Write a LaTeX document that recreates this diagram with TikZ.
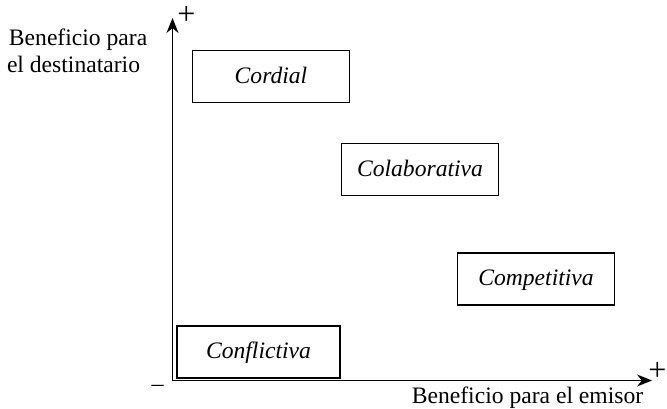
\documentclass[tikz,border=0pt]{standalone}
\usepackage{fontspec}
\setmainfont{Liberation Serif}
\usetikzlibrary{arrows.meta}
\begin{document}
\begin{tikzpicture}[x=0.5pt,y=-0.5pt,
  every node/.style={font=\fontsize{11.8}{14}\selectfont, inner sep=0pt, outer sep=0pt},
  axis/.style={line width=0.75pt, -{Stealth[length=7.5pt,width=6pt]}},
  zone/.style={draw, line width=0.7pt, minimum width=78.5pt, minimum height=26pt,
    text height=0.66em, text depth=0pt, font=\fontsize{11.8}{14}\selectfont\itshape},
  sign/.style={font=\fontsize{16}{18}\selectfont}]
  % canvas
  \useasboundingbox (0,0) rectangle (667,408);

  % axes
  \coordinate (O) at (172.5,380.5);
  \coordinate (ytip) at (172.5,18);
  \coordinate (xtip) at (652,380.5);
  \draw[axis] (O) -- (ytip);
  \draw[axis] (O) -- (xtip);

  % axis signs
  \node[sign] (yplus) at (186.5,15.5) {+};
  \node[sign] (xplus) at (657.5,371) {+};
  \node[font=\fontsize{12}{14}\selectfont] (minus) at (157.5,388) {\textendash};

  % axis titles
  \node[anchor=base west] (ytitle1) at (9,45) {Beneficio para};
  \node[anchor=base west] (ytitle2) at (7,72) {el destinatario};
  \node[anchor=base] (xtitle) at (527.5,403) {Beneficio para el emisor};

  % quadrant boxes
  \node[zone] (cordial) at (271,76.5) {Cordial};
  \node[zone] (colab) at (420,169.5) {Colaborativa};
  \node[zone] (compet) at (536,279) {Competitiva};
  \node[zone, minimum width=81.5pt] (conflict) at (258.5,352) {Conflictiva};
\end{tikzpicture}
\end{document}
